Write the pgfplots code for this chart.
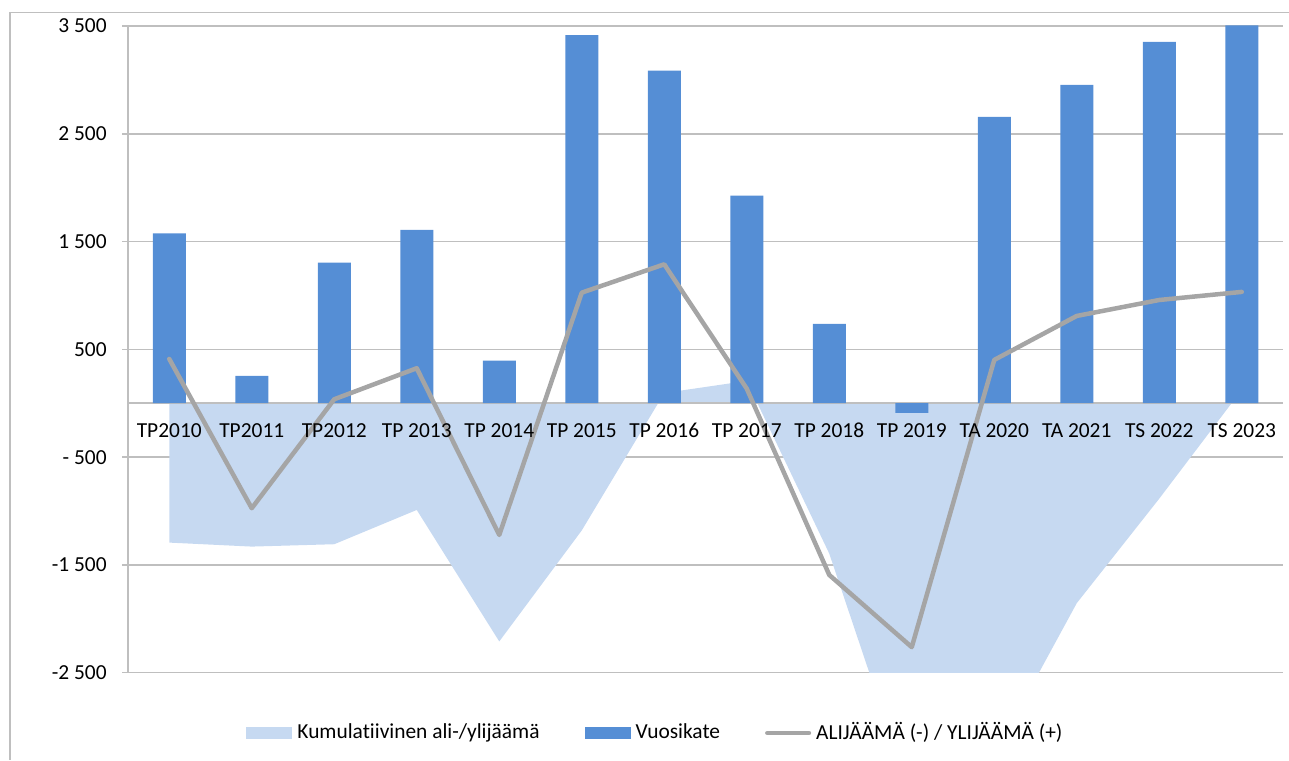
\documentclass[border=0pt]{standalone}
\usepackage{fontspec}
\setmainfont{Carlito}[Ligatures=NoCommon]
\usepackage{pgfplots}
\pgfplotsset{compat=1.18}
\definecolor{barblue}{HTML}{558ED5}
\definecolor{areablue}{HTML}{C6D9F1}
\definecolor{linegray}{HTML}{A5A5A5}
\definecolor{gridgray}{HTML}{BFBFBF}
\pgfplotsset{
  mygeom/.style={
    at={(64pt,43.65pt)}, anchor=south west,
    scale only axis, width=577.5pt, height=323.35pt,
    xmin=-0.5, xmax=13.5, ymin=-2500, ymax=3500,
    tick align=outside, major tick length=3pt,
  },
}
\begin{document}
\fontsize{10.7pt}{12.8pt}\selectfont
\begin{tikzpicture}[x=1pt,y=1pt]
\useasboundingbox (0,0) rectangle (644.5,380);
\draw[gridgray, line width=0.9pt] (5,0) -- (5,373.75) -- (644.5,373.75);
\begin{axis}[
  mygeom,
  axis y line*=left, axis x line*=middle,
  axis line style={-, gridgray, line width=0.75pt},
  xtick=\empty,
  ytick={-2500,-1500,-500,500,1500,2500,3500},
  yticklabels={-2 500,-1 500,- 500,500,1 500,2 500,3 500},
  ymajorgrids, grid style={gridgray, line width=0.75pt},
  y tick style={gridgray, line width=0.75pt},
  yticklabel style={anchor=east, inner sep=0pt, xshift=-7.5pt, font=\fontsize{10.7pt}{12.8pt}\selectfont},
  legend columns=3,
  legend style={at={(axis description cs:0.1022,-0.0932)}, anchor=west, draw=none, fill=none,
    inner sep=0pt, font=\fontsize{10.7pt}{12.8pt}\selectfont,
    /tikz/every even column/.append style={column sep=22.5pt},
    /tikz/every odd column/.append style={column sep=2.5pt},
    nodes={inner sep=0pt}},
  legend cell align=left,
]
% cumulative area
\addplot[fill=areablue, draw=none,
  legend image code/.code={\fill[areablue] (0pt,-3.1pt) rectangle (23pt,3.1pt);}]
  coordinates {(0,0) (0,-1293) (1,-1330) (2,-1308) (3,-990) (4,-2210) (5,-1180) (6,95) (7,207) (8,-1395) (9,-3670) (10,-3262) (11,-1855) (12,-885) (13,125) (13,0)};
\addlegendentry{Kumulatiivinen ali-/ylijäämä}
\addplot[gridgray, line width=0.75pt, forget plot] coordinates {(-0.5,0) (13.5,0)};
% Vuosikate bars
\addplot[ybar, bar width=16.5pt, fill=barblue, draw=none,
  legend image code/.code={\fill[barblue] (0pt,-3.1pt) rectangle (23pt,3.1pt);}]
  coordinates {(0,1577) (1,253) (2,1304) (3,1608) (4,395) (5,3416) (6,3085) (7,1926) (8,736) (9,-90) (10,2656) (11,2953) (12,3352) (13,3505)};
\addlegendentry{Vuosikate}
% line
\addplot[linegray, line width=2.25pt, line join=round, line cap=round, mark=none,
  legend image code/.code={\draw[linegray, line width=2.25pt, line cap=round] (1.1pt,0pt) -- (21.9pt,0pt);}]
  coordinates {(0,411) (1,-974) (2,37) (3,325) (4,-1222) (5,1026) (6,1289) (7,135) (8,-1593) (9,-2263) (10,402) (11,810) (12,958) (13,1033)};
\addlegendentry{ALIJÄÄMÄ (-) / YLIJÄÄMÄ (+)}
\end{axis}
% category labels drawn on top of the area
\begin{axis}[
  mygeom,
  axis y line=none, axis x line*=middle,
  x axis line style={draw=none},
  xtick={0,...,13},
  xticklabels={TP2010,TP2011,TP2012,TP 2013,TP 2014,TP 2015,TP 2016,TP 2017,TP 2018,TP 2019,TA 2020,TA 2021,TS 2022,TS 2023},
  x tick style={draw=none},
  xticklabel style={anchor=base, inner sep=0pt, yshift=-14.15pt, font=\fontsize{10.7pt}{12.8pt}\selectfont},
]
\end{axis}
\end{tikzpicture}
\end{document}
